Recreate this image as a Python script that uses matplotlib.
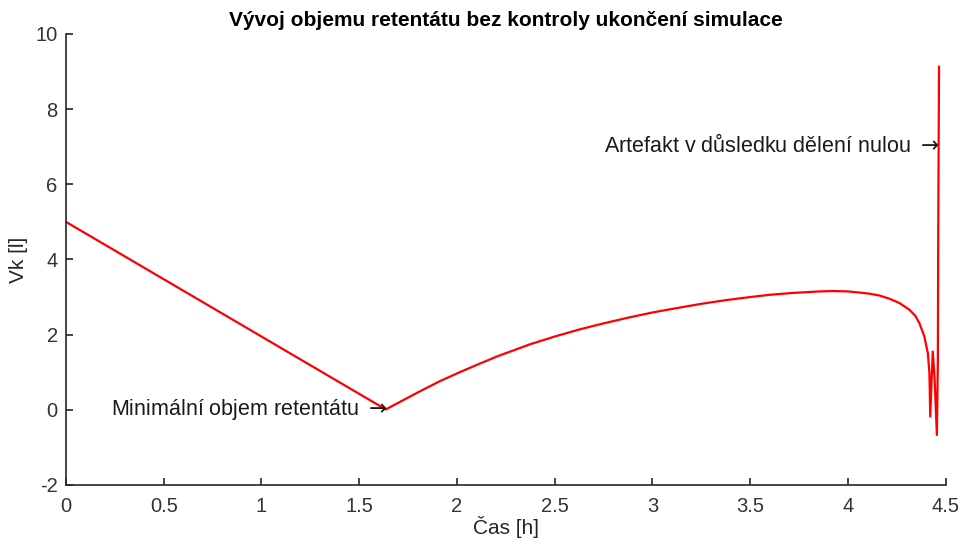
import matplotlib.pyplot as plt

plt.rcParams['font.family'] = ['Liberation Sans', 'DejaVu Sans']
plt.rcParams['axes.unicode_minus'] = False

# data
cas = [0.0, 1.636, 1.708, 1.810, 1.912, 2.014, 2.117, 2.210, 2.372, 2.50,
       2.628, 2.75, 2.883, 3.0, 3.139, 3.25, 3.378, 3.5, 3.6, 3.718,
       3.855, 3.923, 4.0, 4.059, 4.11, 4.162, 4.21, 4.264, 4.315, 4.345,
       4.366, 4.391, 4.409, 4.417, 4.421, 4.434, 4.443, 4.455, 4.46, 4.462,
       4.466]
vk = [5.0, 0.01, 0.21, 0.49, 0.76, 1.00, 1.23, 1.43, 1.74, 1.95,
      2.14, 2.30, 2.46, 2.59, 2.72, 2.82, 2.92, 3.00, 3.06, 3.11,
      3.15, 3.16, 3.15, 3.12, 3.09, 3.04, 2.96, 2.84, 2.66, 2.50,
      2.30, 1.95, 1.50, 0.97, -0.18, 1.55, 0.88, -0.67, 1.24, 4.78,
      9.13]

x_ticks = [0, 0.5, 1, 1.5, 2, 2.5, 3, 3.5, 4, 4.5]
x_tick_labels = ['0', '0.5', '1', '1.5', '2', '2.5', '3', '3.5', '4', '4.5']
y_ticks = [-2, 0, 2, 4, 6, 8, 10]

fig = plt.figure(figsize=(9.63, 5.48), dpi=100)
ax = fig.add_axes([0.0685, 0.115, 0.9135, 0.823])

ax.plot(cas, vk, color='red', linewidth=1.6)

ax.set_xlim(0, 4.5)
ax.set_ylim(-2, 10)
ax.set_xticks(x_ticks)
ax.set_xticklabels(x_tick_labels)
ax.set_yticks(y_ticks)

for side in ['top', 'right']:
    ax.spines[side].set_visible(False)
for side in ['left', 'bottom']:
    ax.spines[side].set_color('#262626')
    ax.spines[side].set_linewidth(1.2)
ax.tick_params(direction='in', length=5, width=1.2, colors='#262626',
               labelsize=14.5, labelcolor='#333333')
ax.tick_params(axis='x', pad=9)
ax.tick_params(axis='y', pad=6)

ax.set_title('Vývoj objemu retentátu bez kontroly ukončení simulace',
             fontsize=15, fontweight='bold', pad=6)
ax.set_xlabel('Čas [h]', fontsize=15, color='#262626', labelpad=0)
ax.set_ylabel('Vk [l]', fontsize=15, color='#262626', labelpad=5)

ax.text(1.645, 0.0, 'Minimální objem retentátu $\\rightarrow$', ha='right', va='center',
        fontsize=15.5, color='#1a1a1a')
ax.text(4.465, 7.02, 'Artefakt v důsledku dělení nulou $\\rightarrow$', ha='right',
        va='center', fontsize=15.5, color='#1a1a1a')

fig.savefig('out.png', dpi=100)
